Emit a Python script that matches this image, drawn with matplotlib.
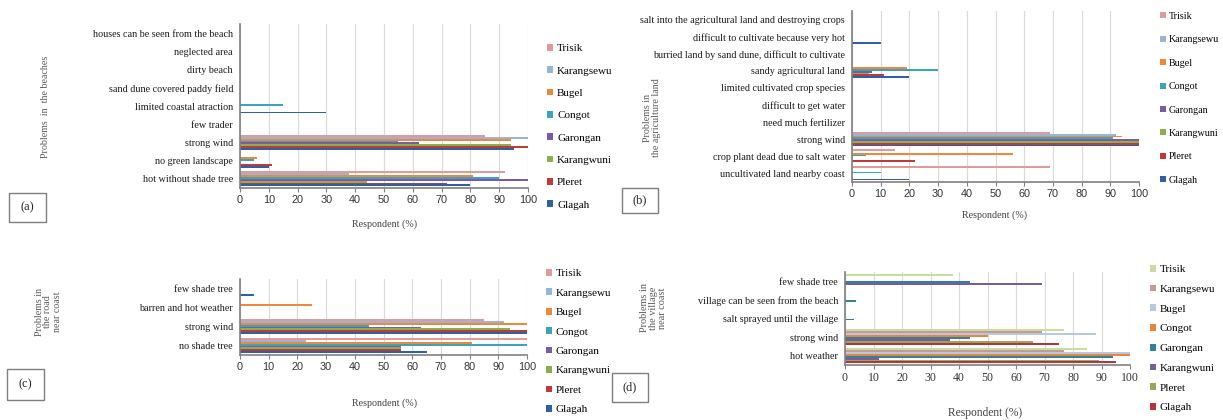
import matplotlib
matplotlib.use('Agg')
import matplotlib.pyplot as plt
from matplotlib.patches import Patch, Rectangle

W, H = 1223, 420

villages = ['Glagah', 'Pleret', 'Karangwuni', 'Garongan', 'Congot', 'Bugel', 'Karangsewu', 'Trisik']

# colours used in panels a, b, c  (same order as villages)
colors_abc = ['#2F5FA6', '#BE3A3A', '#8AB04A', '#7B5AA6', '#3BA3BE', '#F0883A', '#98B4D9', '#E09A9A']
# panel d uses a different palette
colors_d = ['#B5343A', '#98A85A', '#7A5C9E', '#2F8299', '#E9853A', '#B7C9E2', '#C79A94', '#C9DB9E']

# (a) problems in the beaches, categories bottom -> top
a_cats = ['hot without shade tree', 'no green landscape', 'strong wind', 'few trader',
          'limited coastal atraction', 'sand dune covered paddy field', 'dirty beach',
          'neglected area', 'houses can be seen from the beach']
a_vals = [
    [80, 10, 95, 0, 30, 0, 0, 0, 0],   # Glagah
    [72, 11, 100, 0, 0, 0, 0, 0, 0],   # Pleret
    [44, 0, 94, 0, 0, 0, 0, 0, 0],     # Karangwuni
    [100, 0, 62, 0, 0, 0, 0, 0, 0],    # Garongan
    [90, 5, 55, 0, 15, 0, 0, 0, 0],    # Congot
    [81, 6, 94, 0, 0, 0, 0, 0, 0],     # Bugel
    [38, 0, 100, 0, 0, 0, 0, 0, 0],    # Karangsewu
    [92, 0, 85, 0, 0, 0, 0, 0, 0],     # Trisik
]

# (b) problems in the agriculture land
b_cats = ['uncultivated land nearby coast', 'crop plant dead due to salt water', 'strong wind',
          'need much fertilizer', 'difficult to get water', 'limited cultivated crop species',
          'sandy agricultural land', 'burried land by sand dune, difficult to cultivate',
          'difficult to cultivate because very hot',
          'salt into the agricultural land and destroying crops']
b_vals = [
    [20, 0, 100, 0, 0, 0, 20, 0, 10, 0],
    [0, 22, 100, 0, 0, 0, 11, 0, 0, 0],
    [0, 0, 100, 0, 0, 0, 6, 0, 0, 0],
    [0, 0, 100, 0, 0, 0, 7, 0, 0, 0],
    [10, 5, 91, 0, 0, 0, 30, 0, 0, 0],
    [0, 56, 94, 0, 0, 0, 19, 0, 0, 0],
    [0, 0, 92, 0, 0, 0, 0, 0, 0, 0],
    [69, 15, 69, 0, 0, 0, 0, 0, 0, 0],
]

# (c) problems in the road near coast
c_cats = ['no shade tree', 'strong wind', 'barren and hot weather', 'few shade tree']
c_vals = [
    [65, 100, 0, 5],
    [56, 100, 0, 0],
    [56, 94, 0, 0],
    [56, 63, 0, 0],
    [100, 45, 0, 0],
    [81, 100, 25, 0],
    [23, 92, 0, 0],
    [100, 85, 0, 0],
]

# (d) problems in the village near coast
d_cats = ['hot weather', 'strong wind', 'salt sprayed until the village',
          'village can be seen from the beach', 'few shade tree']
d_vals = [
    [95, 75, 0, 0, 0],
    [89, 66, 0, 0, 0],
    [12, 37, 0, 0, 69],
    [94, 44, 3, 4, 44],
    [100, 50, 0, 0, 0],
    [100, 88, 0, 0, 0],
    [77, 69, 0, 0, 0],
    [85, 77, 0, 0, 38],
]

plt.rcParams['font.family'] = ['Liberation Serif', 'DejaVu Serif']

fig = plt.figure(figsize=(W / 100, H / 100), dpi=100)


def fx(x):
    return x / W


def fy(y):
    return 1 - y / H


def panel(box, cats, vals, colors, tickfont, ticksize):
    x0, y0, x1, y1 = box
    ax = fig.add_axes([fx(x0), fy(y1), (x1 - x0) / W, (y1 - y0) / H])
    n = len(vals)
    h = 0.82 / n
    for i in range(n):
        ys = [k + (i - (n - 1) / 2) * h for k in range(len(cats))]
        ax.barh(ys, vals[i], height=h, color=colors[i], linewidth=0, zorder=2)
    ax.set_xlim(0, 100)
    ax.set_ylim(-0.5, len(cats) - 0.5)
    ax.set_xticks(range(0, 101, 10))
    ax.set_yticks(range(len(cats)))
    ax.set_yticklabels(cats, fontsize=7.3, color='#1a1a1a')
    for t in ax.get_xticklabels():
        t.set_fontfamily(tickfont)
    ax.tick_params(axis='x', labelsize=ticksize, length=3, color='#808080', pad=2, labelcolor='#333333')
    ax.tick_params(axis='y', length=0, pad=5)
    ax.grid(axis='x', color='#D9D9D9', linewidth=0.8, zorder=0)
    ax.set_axisbelow(True)
    for s in ['top', 'right']:
        ax.spines[s].set_visible(False)
    for s in ['left', 'bottom']:
        ax.spines[s].set_color('#808080')
        ax.spines[s].set_linewidth(1.2)
    return ax


def legend(ax, colors, x, ytop, spacing, fs=8):
    handles = [Patch(facecolor=colors[i], edgecolor='none', label=villages[i])
               for i in range(len(villages) - 1, -1, -1)]
    ls = (spacing * 0.72 - 0.86 * fs) / fs
    ax.legend(handles=handles, loc='upper left', bbox_to_anchor=(fx(x), fy(ytop)),
              bbox_transform=fig.transFigure, frameon=False, fontsize=fs,
              handlelength=0.55, handleheight=0.55, handletextpad=0.35,
              labelspacing=ls, borderpad=0, borderaxespad=0)


def box_label(text, x0, y0, x1, y1):
    fig.patches.append(Rectangle((fx(x0), fy(y1)), (x1 - x0) / W, (y1 - y0) / H,
                                 transform=fig.transFigure, fill=False,
                                 edgecolor='#7F7F7F', linewidth=1.0))
    fig.text(fx((x0 + x1) / 2), fy((y0 + y1) / 2), text, ha='center', va='center',
             fontsize=9, color='#262626')


ax_a = panel((240, 24, 528, 188), a_cats, a_vals, colors_abc, 'Liberation Sans', 7.8)
legend(ax_a, colors_abc, 547, 44, 22.6)
fig.text(fx(385), fy(224), 'Respondent (%)', ha='center', va='center', fontsize=7.2, color='#404040')
fig.text(fx(45), fy(107), 'Problems  in  the beaches', rotation=90, ha='center', va='center',
         fontsize=7.2, color='#595959')
box_label('(a)', 9, 193, 46, 222)

ax_b = panel((852, 11, 1139, 182), b_cats, b_vals, colors_abc, 'Liberation Sans', 7.8)
legend(ax_b, colors_abc, 1160, 12, 23, fs=7.2)
fig.text(fx(995), fy(215), 'Respondent (%)', ha='center', va='center', fontsize=7.2, color='#404040')
fig.text(fx(652), fy(118), 'Problems in\nthe agriculture land', rotation=90, ha='center',
         va='center', fontsize=7.2, color='#595959', linespacing=1.0)
box_label('(b)', 622, 188, 658, 213)

ax_c = panel((240, 279, 527, 355), c_cats, c_vals, colors_abc, 'Liberation Sans', 7.8)
legend(ax_c, colors_abc, 546, 269, 19.7)
fig.text(fx(385), fy(403), 'Respondent (%)', ha='center', va='center', fontsize=7.2, color='#404040')
fig.text(fx(48), fy(312), 'Problems in\nthe road\nnear coast', rotation=90, ha='center',
         va='center', fontsize=7.2, color='#595959', linespacing=1.0)
box_label('(c)', 7, 369, 44, 400)

ax_d = panel((845, 272, 1130, 365), d_cats, d_vals, colors_d, 'Liberation Serif', 8.5)
legend(ax_d, colors_d, 1150, 265, 20)
fig.text(fx(985), fy(413), 'Respondent (%)', ha='center', va='center', fontsize=8.3, color='#404040')
fig.text(fx(654), fy(308), 'Problems in\nthe village\nnear coast', rotation=90, ha='center',
         va='center', fontsize=7.4, color='#595959', linespacing=1.0)
box_label('(d)', 612, 373, 648, 402)

fig.savefig('out.png', dpi=100)
